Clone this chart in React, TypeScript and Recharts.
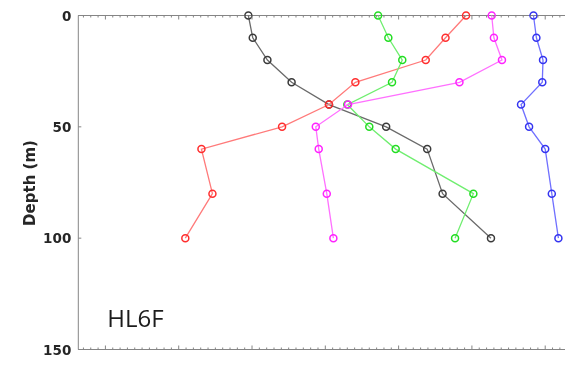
import React from 'react';
import { ScatterChart, Scatter, XAxis, YAxis } from 'recharts';

// Sampling depths (m) shared by every profile
const depths = [0, 10, 20, 30, 40, 50, 60, 80, 100];

// Profile values at each depth (arbitrary x units, major tick every 10)
const blackSeries = [19.5, 20.1, 22.1, 25.4, 30.5, 38.3, 43.9, 46.0, 52.6];
const redSeries = [49.2, 46.4, 43.7, 34.1, 30.5, 24.1, 13.1, 14.6, 10.9];
const greenSeries = [37.2, 38.6, 40.5, 39.1, 33.0, 36.0, 39.6, 50.2, 47.7];
const magentaSeries = [52.7, 53.0, 54.1, 48.3, 33.1, 28.7, 29.1, 30.2, 31.1];
const blueSeries = [58.4, 58.8, 59.7, 59.6, 56.7, 57.8, 60.0, 60.9, 61.8];

const depthTicks = [0, 50, 100, 150];
const xDomain: [number, number] = [-3.7, 62.7];
const xTicks: number[] = [];
for (let v = -3; v <= 62; v += 1) xTicks.push(v);

const stationLabel = 'HL6F';
const depthLabel = 'Depth (m)';

const AXIS = '#858585';

// Both x axes share one domain; spreading the profiles over them keeps each axis populated
const series = [
  { name: 'black', values: blackSeries, line: '#6a6a6a', marker: '#3a3a3a', axis: 'bottom' },
  { name: 'red', values: redSeries, line: '#ff7a7a', marker: '#ff2e2e', axis: 'bottom' },
  { name: 'green', values: greenSeries, line: '#70ee70', marker: '#22dd22', axis: 'bottom' },
  { name: 'magenta', values: magentaSeries, line: '#ff70ff', marker: '#ff22ff', axis: 'top' },
  { name: 'blue', values: blueSeries, line: '#7070ff', marker: '#3434f0', axis: 'top' },
];

const toPoints = (values: number[]) => values.map((x, i) => ({ x, y: depths[i] }));

const makeMarker = (color: string) => (props: any) => (
  <circle cx={props.cx} cy={props.cy} r={3.5} fill="none" stroke={color} strokeWidth={1.5} />
);

// Inward-pointing ticks along the top and bottom frame edges
const TopTick = (props: any) => {
  const { x, y, payload } = props;
  const major = Math.round(payload.value) % 10 === 0;
  return <line x1={x} x2={x} y1={y} y2={y + (major ? 4 : 2)} stroke={AXIS} strokeWidth={1} />;
};

const BottomTick = (props: any) => {
  const { x, y, payload } = props;
  const major = Math.round(payload.value) % 10 === 0;
  return <line x1={x} x2={x} y1={y} y2={y - (major ? 4 : 2)} stroke={AXIS} strokeWidth={1} />;
};

const DepthTick = (props: any) => {
  const { x, y, payload } = props;
  return (
    <g>
      <line x1={x} x2={x + 3} y1={y} y2={y} stroke={AXIS} strokeWidth={1} />
      <text
        x={x - 7}
        y={y}
        textAnchor="end"
        dominantBaseline="central"
        fontFamily="'DejaVu Sans', sans-serif"
        fontWeight="bold"
        fontSize={13.5}
        fill="#262626"
      >
        {payload.value}
      </text>
    </g>
  );
};

export default function App() {
  return (
    <div style={{ position: 'fixed', left: 0, top: 0, width: 565, height: 365, overflow: 'hidden' }}>
      <ScatterChart
        width={565}
        height={365}
        margin={{ top: 14.5, right: 0, bottom: 14.5, left: 8 }}
      >
        <XAxis
          xAxisId="top"
          orientation="top"
          type="number"
          dataKey="x"
          domain={xDomain}
          ticks={xTicks}
          interval={0}
          height={1}
          tickSize={0}
          tickMargin={0}
          tickLine={false}
          tick={<TopTick />}
          axisLine={{ stroke: AXIS, strokeWidth: 1 }}
        />
        <XAxis
          xAxisId="bottom"
          orientation="bottom"
          type="number"
          dataKey="x"
          domain={xDomain}
          ticks={xTicks}
          interval={0}
          height={1}
          tickSize={0}
          tickMargin={0}
          tickLine={false}
          tick={<BottomTick />}
          axisLine={{ stroke: AXIS, strokeWidth: 1 }}
          label={{
            content: () => (
              <text
                x={107.3}
                y={327.3}
                fontFamily="'Open Sans', sans-serif"
                fontSize={24}
                fill="#1c1c1c"
              >
                {stationLabel}
              </text>
            ),
          }}
        />
        <YAxis
          type="number"
          dataKey="y"
          domain={[0, 150]}
          ticks={depthTicks}
          interval={0}
          reversed
          width={70.3}
          tickSize={0}
          tickMargin={0}
          tickLine={false}
          tick={<DepthTick />}
          axisLine={{ stroke: AXIS, strokeWidth: 1 }}
          label={{
            content: () => (
              <text
                x={29.5}
                y={183}
                transform="rotate(-90 29.5 183)"
                textAnchor="middle"
                dominantBaseline="central"
                fontFamily="'DejaVu Sans', sans-serif"
                fontWeight="bold"
                fontSize={15}
                fill="#262626"
              >
                {depthLabel}
              </text>
            ),
          }}
        />
        {series.map((s) => (
          <Scatter
            key={s.name}
            xAxisId={s.axis}
            data={toPoints(s.values)}
            stroke={s.line}
            line={{ stroke: s.line, strokeWidth: 1.3 }}
            lineType="joint"
            shape={makeMarker(s.marker)}
            isAnimationActive={false}
          />
        ))}
      </ScatterChart>
    </div>
  );
}
